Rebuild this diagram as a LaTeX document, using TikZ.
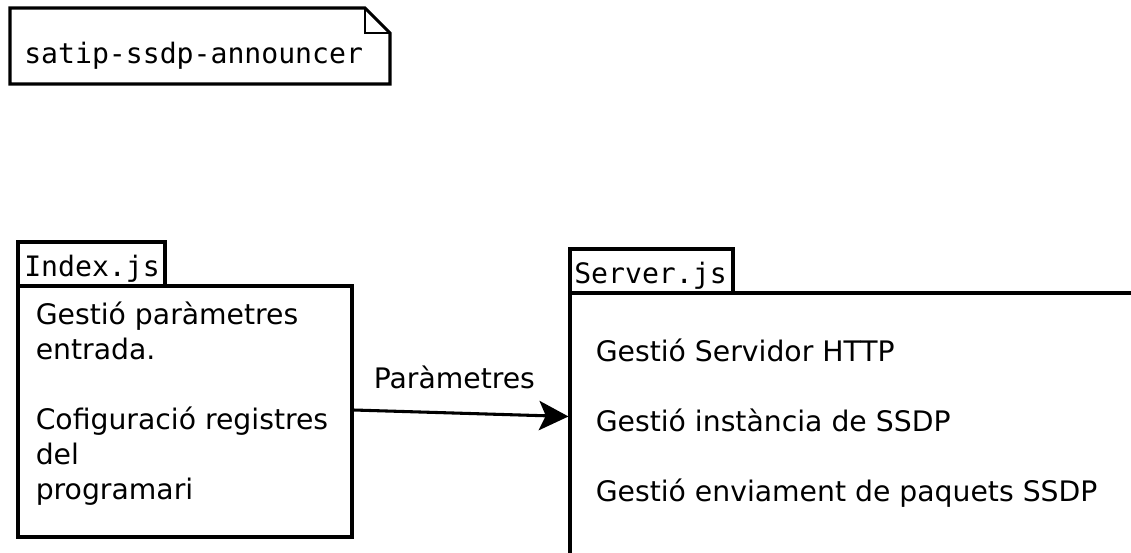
\documentclass[tikz,border=0pt]{standalone}
\usepackage{fontspec}
\setmainfont{DejaVu Sans}
\setmonofont{DejaVu Sans Mono}
\usetikzlibrary{arrows.meta,fit,calc}
\begin{document}
\begin{tikzpicture}[x=0.75pt,y=-0.75pt,
  frame/.style={draw=black,line width=2.3pt},
  fold/.style={draw=black,line width=1.5pt},
  box/.style={frame,inner sep=0pt},
  body/.style={font=\fontsize{21.2}{26.25}\selectfont,align=left,anchor=base west,inner sep=0pt},
  code/.style={font=\ttfamily\fontsize{21.1}{26.25}\selectfont,anchor=base west,inner sep=0pt},
  flow/.style={line width=2.3pt,-{Stealth[length=22pt,width=22pt,inset=5pt]}}
]
\useasboundingbox (0,0) rectangle (1131,553);

% package note with a folded corner
\draw[frame] (10,8) -- (365,8) -- (390,33) -- (390,84) -- (10,84) -- cycle;
\draw[fold] (365,8) -- (365,33) -- (390,33);
\node[code] (pkg) at (24,63) {satip-ssdp-announcer};

% Index.js module
\node[box,fit={(18,242)(165,286)}] (indextab) {};
\node[box,fit={(18,286)(352,537)}] (index) {};
\node[code] (indexname) at (24,276) {Index.js};
% multi-line nodes sit on the baseline of their last line
\node[body] (indextext) at (35.5,499) {Gestió paràmetres\\entrada.\\~\\Cofiguració registres\\del\\programari};

% Server.js module (runs past the page edge)
\begin{scope}
\clip (0,0) rectangle (1131,553);
\node[box,fit={(570,249)(733,293)}] (servertab) {};
\node[box,fit={(570,293)(1160,580)}] (server) {};
\end{scope}
\node[code] (servername) at (574,283) {Server.js};
\node[body] (servertext) at (595.5,501) {Gestió Servidor HTTP\\~\\Gestió instància de SSDP\\~\\Gestió enviament de paquets SSDP};

% parameters passed from Index.js to Server.js
\draw[flow] (index.east |- 0,410) -- ($(server.north west)+(0,125)$);
\node[body] (param) at (373.5,388) {Paràmetres};
\end{tikzpicture}
\end{document}
